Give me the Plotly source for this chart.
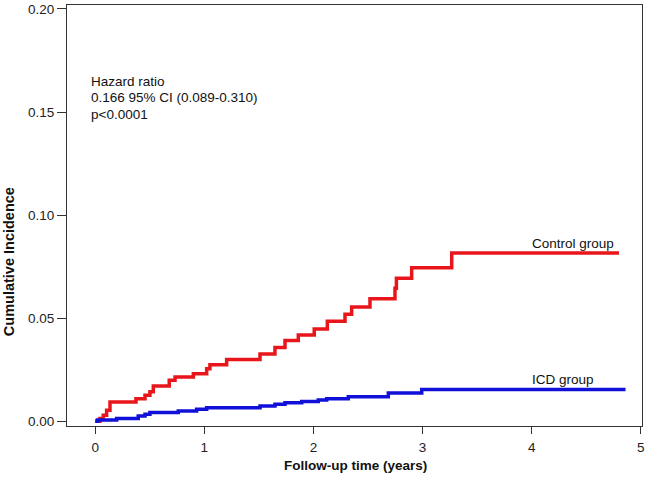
import plotly.graph_objects as go

# Control group (red) cumulative incidence steps
control_t = [0, 0.043, 0.073, 0.104, 0.135, 0.373, 0.456, 0.501, 0.532, 0.678, 0.731, 0.899,
             1.021, 1.051, 1.204, 1.51, 1.647, 1.739, 1.861, 2.007, 2.127, 2.289, 2.350,
             2.518, 2.747, 2.76, 2.90, 3.267, 4.80]
control_v = [0, 0.0014, 0.003, 0.0054, 0.0094, 0.011, 0.0127, 0.0143, 0.0172, 0.0199, 0.0215,
             0.0231, 0.0255, 0.0275, 0.030, 0.0327, 0.0358, 0.0392, 0.0419, 0.0448, 0.0485,
             0.052, 0.0555, 0.0595, 0.0645, 0.0694, 0.0745, 0.0817, 0.0817]

# ICD group (blue)
icd_t = [0, 0.02, 0.196, 0.394, 0.456, 0.501, 0.761, 0.929, 1.021, 1.51, 1.647, 1.739, 1.892,
         2.044, 2.121, 2.319, 2.686, 2.992, 4.86]
icd_v = [0, 0.0006, 0.0014, 0.0026, 0.0034, 0.0043, 0.005, 0.0059, 0.0066, 0.0074, 0.0083,
         0.009, 0.0096, 0.0103, 0.011, 0.0119, 0.0138, 0.0154, 0.0154]

x_ticks = [0, 1, 2, 3, 4, 5]
y_ticks = [0.00, 0.05, 0.10, 0.15, 0.20]
y_ticklabels = ["0.00", "0.05", "0.10", "0.15", "0.20"]

hr_lines = ["Hazard ratio", "0.166 95% CI (0.089-0.310)", "p<0.0001"]

FONT = "Liberation Sans, Arial, sans-serif"

fig = go.Figure()
fig.add_trace(go.Scatter(x=control_t, y=control_v, mode="lines", line_shape="hv",
                         line=dict(color="#e8161b", width=3.5), name="Control group"))
fig.add_trace(go.Scatter(x=icd_t, y=icd_v, mode="lines", line_shape="hv",
                         line=dict(color="#1010d8", width=3.5), name="ICD group"))

fig.update_layout(
    width=648, height=479,
    margin=dict(l=67, r=6, t=2, b=53),
    paper_bgcolor="white", plot_bgcolor="white",
    showlegend=False,
    font=dict(family=FONT, size=13.5, color="#222"),
    xaxis=dict(range=[-0.259, 5.011], tickvals=x_ticks, ticks="outside", ticklen=7,
               tickcolor="#333", showline=True, linecolor="#333", linewidth=1.2, mirror=True,
               showgrid=False, zeroline=False, tickfont=dict(size=13.5, color="#222"),
               ticklabeloverflow="allow", ticklabelstandoff=2),
    yaxis=dict(range=[-0.00226, 0.20193], tickvals=y_ticks, ticktext=y_ticklabels,
               ticks="outside", ticklen=9, tickcolor="#333", showline=True, linecolor="#333",
               linewidth=1.2, mirror=True, showgrid=False, zeroline=False,
               tickfont=dict(size=13.5, color="#222"), ticklabeloverflow="allow"),
)

PX_L, PX_R, PX_T, PX_B = 67, 642, 2, 426


def px_to_paper(px, py):
    return (px - PX_L) / (PX_R - PX_L), (PX_B - py) / (PX_B - PX_T)


ann = []
for i, txt in enumerate(hr_lines):
    ann.append(dict(x=-0.057, y=[0.1648, 0.1569, 0.1489][i], xref="x", yref="y", text=txt,
                    showarrow=False, xanchor="left", yanchor="middle",
                    font=dict(size=13.5, color="#111")))
ann.append(dict(x=3.985, y=0.0862, xref="x", yref="y", text="Control group", showarrow=False,
                xanchor="left", yanchor="middle", font=dict(size=13.5, color="#111")))
ann.append(dict(x=3.98, y=0.0204, xref="x", yref="y", text="ICD group", showarrow=False,
                xanchor="left", yanchor="middle", font=dict(size=13.5, color="#111")))
xt_x, xt_y = px_to_paper(355, 466)
ann.append(dict(x=xt_x, y=xt_y, xref="paper", yref="paper",
                text="<b>Follow-up time (years)</b>", showarrow=False,
                xanchor="center", yanchor="middle", font=dict(size=13.5, color="#111")))
yt_x, yt_y = px_to_paper(9, 261)
ann.append(dict(x=yt_x, y=yt_y, xref="paper", yref="paper",
                text="<b>Cumulative Incidence</b>", showarrow=False, textangle=-90,
                xanchor="center", yanchor="middle", font=dict(size=14.5, color="#111")))
fig.update_layout(annotations=ann)

fig.write_html("out.html", config={"displayModeBar": False},
               post_script="document.body.style.margin='0px';document.body.style.padding='0px';")
